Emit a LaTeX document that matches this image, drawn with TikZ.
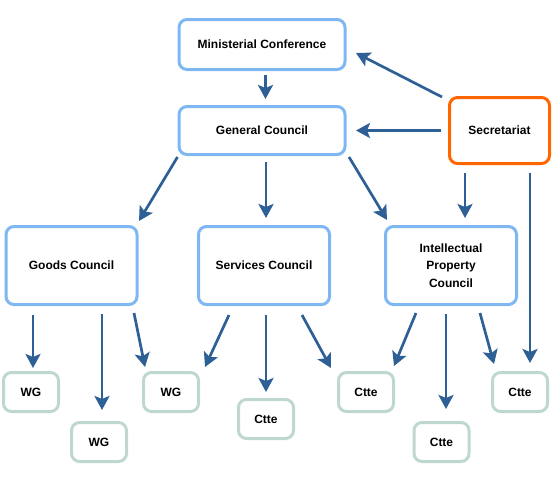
\documentclass[tikz,border=0pt]{standalone}
\usepackage{fontspec}
\setmainfont{Liberation Sans}
\usetikzlibrary{arrows.meta,calc}
\definecolor{boxblue}{RGB}{126,183,242}
\definecolor{boxorange}{RGB}{255,102,0}
\definecolor{boxgreen}{RGB}{190,216,207}
\definecolor{arrblue}{RGB}{46,96,150}
\tikzset{
  base/.style={rectangle, rounded corners=8pt, line width=3pt, fill=white, align=center,
    font=\fontsize{12}{17.5}\selectfont\bfseries, text=black},
  topbox/.style={base, draw=boxblue, minimum width=166pt, minimum height=48pt},
  secbox/.style={base, draw=boxorange, minimum width=100pt, minimum height=66pt},
  midbox/.style={base, draw=boxblue, minimum width=131pt, minimum height=78pt},
  leafbox/.style={base, draw=boxgreen, minimum width=55pt, minimum height=39pt},
  arr/.style={draw=arrblue, line width=2.7pt, -{Stealth[length=14pt,width=15pt,inset=3pt]}}
}
\begin{document}
\begin{tikzpicture}[x=1pt,y=-1pt]
\useasboundingbox (0,0) rectangle (555,490);
% nodes
\node[topbox, minimum height=50pt] (mc) at (262,44.5) {Ministerial Conference};
\node[topbox] (gc) at (262,130.5) {General Council};
\node[secbox] (sec) at (499.5,130.5) {Secretariat};
\node[midbox] (goods) at (71.5,265.5) {Goods Council};
\node[midbox] (serv) at (264,265.5) {Services Council};
\node[midbox] (ip) at (451,265.5) {Intellectual\\Property\\Council};
\node[leafbox] (wg1) at (31,392) {WG};
\node[leafbox] (wg2) at (99,442) {WG};
\node[leafbox] (wg3) at (171,392) {WG};
\node[leafbox] (c1) at (266,419) {Ctte};
\node[leafbox] (c2) at (366,392) {Ctte};
\node[leafbox] (c3) at (441.5,442) {Ctte};
\node[leafbox] (c4) at (520,392) {Ctte};
% connectors
\draw[arr] ($(mc.south)+(3.5,4)$) -- ($(gc.north)+(3.5,-6)$);
\draw[arr] ($(sec.north west)+(-6,1)$) -- ($(mc.south east)+(9.5,-18)$);
\draw[arr] ($(sec.west)+(-7,0)$) -- ($(gc.east)+(9.5,0)$);
\draw[arr] ($(gc.south west)+(0,1)$) -- ($(goods.north east)+(0.5,-4)$);
\draw[arr] ($(gc.south)+(4,6)$) -- ($(serv.north)+(2,-7)$);
\draw[arr] ($(gc.south east)+(2.5,1)$) -- ($(ip.north west)+(3,-5)$);
\draw[arr] ($(sec.south)+(-34.5,8)$) -- ($(ip.north)+(14,-7)$);
\draw[arr] ($(sec.south)+(30.5,8)$) -- ($(c4.north)+(10,-8)$);
\draw[arr] ($(goods.south)+(-38.5,9)$) -- ($(wg1.north)+(2,-3)$);
\draw[arr] ($(goods.south)+(30.5,8)$) -- ($(wg2.north)+(3,-11)$);
\draw[arr] ($(goods.south east)+(-4.5,7)$) -- ($(wg3.north west)+(3,-4)$);
\draw[arr] ($(serv.south west)+(32,9)$) -- ($(wg3.north east)+(5,-4)$);
\draw[arr] ($(serv.south)+(2,9)$) -- ($(c1.north)+(0,-6)$);
\draw[arr] ($(serv.south east)+(-29,9)$) -- ($(c2.north west)+(-6,-3)$);
\draw[arr] ($(ip.south west)+(32,7)$) -- ($(c2.north east)+(-1,-5)$);
\draw[arr] ($(ip.south)+(-5,8)$) -- ($(c3.north)+(4.5,-12)$);
\draw[arr] ($(ip.south east)+(-38,7)$) -- ($(c4.north west)+(3,-7)$);
\end{tikzpicture}
\end{document}
